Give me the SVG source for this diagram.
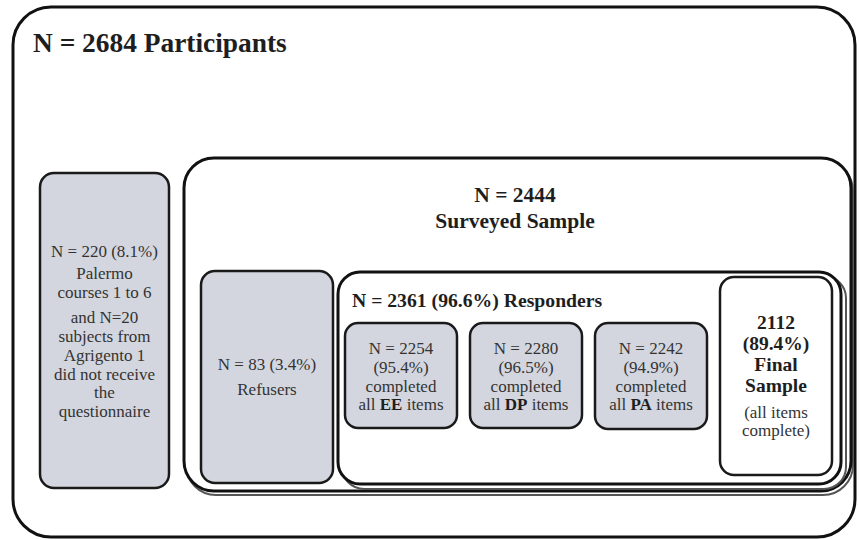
<svg xmlns="http://www.w3.org/2000/svg" width="859" height="540" viewBox="0 0 859 540">
<style>
.frame{fill:#fff;stroke:#111;stroke-width:3}
.gray{fill:#d3d6de;stroke:#1a1a1a;stroke-width:2.5}
.white{fill:#fff;stroke:#1a1a1a;stroke-width:2.5}
.shadow{fill:none;stroke:#555;stroke-width:2}
text{font-family:"Liberation Serif","Times New Roman",serif;fill:#333;text-anchor:middle}
.t{font-size:17px}
.b{font-weight:bold;fill:#1e1e1e}
.h1{font-size:27.4px;text-anchor:start}
.h2{font-size:21.5px}
.h3{font-size:19.7px;text-anchor:start}
.fs{font-size:19.5px}
</style>
<g id="participants">
<rect class="frame" x="13" y="7" width="842" height="530" rx="38" ry="38"/>
<text class="b h1" x="33" y="52">N = 2684 Participants</text>
</g>
<g id="not-received">
<rect class="gray" x="40" y="173" width="129" height="315" rx="14" ry="14"/>
<text class="t" x="104.5" y="257">N = 220 (8.1%)</text>
<text class="t" x="104.5" y="279">Palermo</text>
<text class="t" x="104.5" y="298">courses 1 to 6</text>
<text class="t" x="104.5" y="323">and N=20</text>
<text class="t" x="104.5" y="342">subjects from</text>
<text class="t" x="104.5" y="361">Agrigento 1</text>
<text class="t" x="104.5" y="380">did not receive</text>
<text class="t" x="104.5" y="398">the</text>
<text class="t" x="104.5" y="417">questionnaire</text>
</g>
<g id="surveyed">
<rect class="shadow" x="186" y="161" width="667" height="334" rx="30" ry="30"/>
<rect class="frame" x="184" y="158" width="667" height="333" rx="30" ry="30"/>
<text class="b h2" x="515" y="202">N = 2444</text>
<text class="b h2" x="515" y="228">Surveyed Sample</text>
</g>
<g id="refusers">
<rect class="gray" x="201" y="271" width="132" height="212" rx="14" ry="14"/>
<text class="t" x="267" y="370">N = 83 (3.4%)</text>
<text class="t" x="267" y="395">Refusers</text>
</g>
<g id="responders">
<rect class="shadow" x="342" y="276" width="504" height="213" rx="22" ry="22"/>
<rect class="frame" x="338" y="272" width="503" height="212" rx="22" ry="22"/>
<text class="b h3" x="352" y="307">N = 2361 (96.6%) Responders</text>
</g>
<g id="ee">
<rect class="gray" x="345" y="323" width="112" height="105" rx="13" ry="13"/>
<text class="t" x="401" y="354">N = 2254</text>
<text class="t" x="401" y="373">(95.4%)</text>
<text class="t" x="401" y="392">completed</text>
<text class="t" x="401" y="410">all <tspan class="b">EE</tspan> items</text>
</g>
<g id="dp">
<rect class="gray" x="470" y="323" width="112" height="105" rx="13" ry="13"/>
<text class="t" x="526" y="354">N = 2280</text>
<text class="t" x="526" y="373">(96.5%)</text>
<text class="t" x="526" y="392">completed</text>
<text class="t" x="526" y="410">all <tspan class="b">DP</tspan> items</text>
</g>
<g id="pa">
<rect class="gray" x="595" y="323" width="112" height="106" rx="13" ry="13"/>
<text class="t" x="651" y="354">N = 2242</text>
<text class="t" x="651" y="373">(94.9%)</text>
<text class="t" x="651" y="392">completed</text>
<text class="t" x="651" y="410">all <tspan class="b">PA</tspan> items</text>
</g>
<g id="final">
<rect class="white" x="720" y="277" width="112" height="198" rx="14" ry="14"/>
<text class="b fs" x="776" y="329">2112</text>
<text class="b fs" x="776" y="350">(89.4%)</text>
<text class="b fs" x="776" y="371">Final</text>
<text class="b fs" x="776" y="392">Sample</text>
<text class="t" x="776" y="418">(all items</text>
<text class="t" x="776" y="436">complete)</text>
</g>
<g id="connectors"/>
</svg>
